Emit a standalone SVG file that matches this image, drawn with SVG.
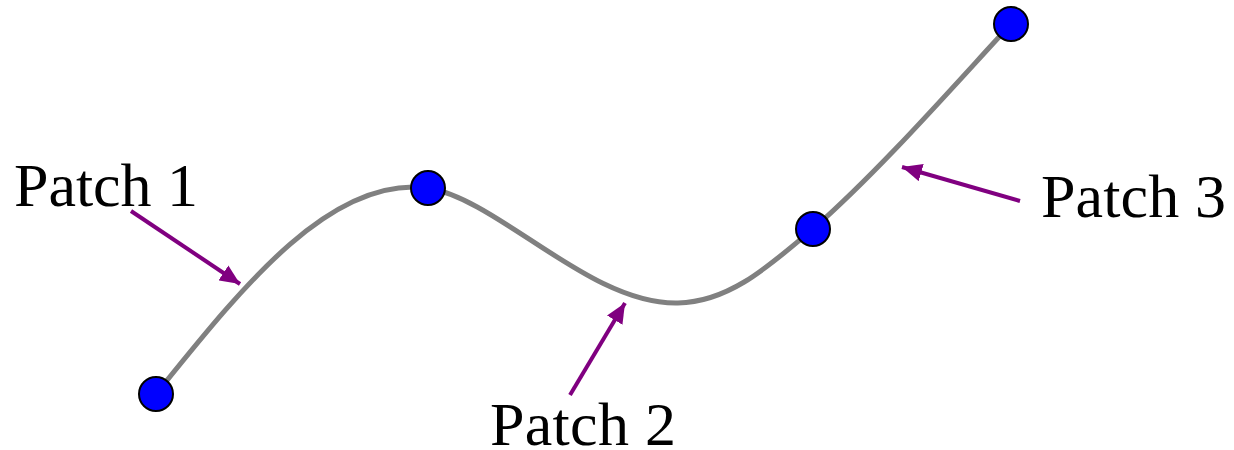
<svg xmlns="http://www.w3.org/2000/svg" width="1234" height="450" viewBox="0 0 1234 450">
<style>
.curve{fill:none;stroke:#808080;stroke-width:5}
.arr{fill:none;stroke:#800080;stroke-width:4;marker-end:url(#ah)}
.pt{fill:#0000ff;stroke:#000;stroke-width:2}
.lbl{font-family:"Liberation Serif",serif;font-size:62px;fill:#000}
</style>
<defs>
<marker id="ah" markerUnits="userSpaceOnUse" markerWidth="22" markerHeight="18" refX="20" refY="9" orient="auto">
<path d="M0,0 L20,9 L0,18 Z" fill="#800080"/>
</marker>
</defs>
<rect width="1234" height="450" fill="#fff"/>
<g id="curve">
<path class="curve" d="M156,394 C240,290 330,175 428,188 C500,200 590,305 678,303 C730,302 770,265 813,229 C880,170 950,90 1011,24"/>
</g>
<g id="connectors">
<line class="arr" x1="131" y1="211" x2="240" y2="284"/>
<line class="arr" x1="570" y1="395" x2="625" y2="303"/>
<line class="arr" x1="1020" y1="201" x2="902" y2="167"/>
</g>
<g id="p0"><circle class="pt" cx="156" cy="394" r="17"/></g>
<g id="p1"><circle class="pt" cx="428" cy="188" r="17"/></g>
<g id="p2"><circle class="pt" cx="813" cy="229" r="17"/></g>
<g id="p3"><circle class="pt" cx="1011" cy="24" r="17"/></g>
<g id="label1"><text class="lbl" x="14" y="206" textLength="184">Patch 1</text></g>
<g id="label2"><text class="lbl" x="490" y="445" textLength="186">Patch 2</text></g>
<g id="label3"><text class="lbl" x="1041" y="217" textLength="185">Patch 3</text></g>
</svg>
